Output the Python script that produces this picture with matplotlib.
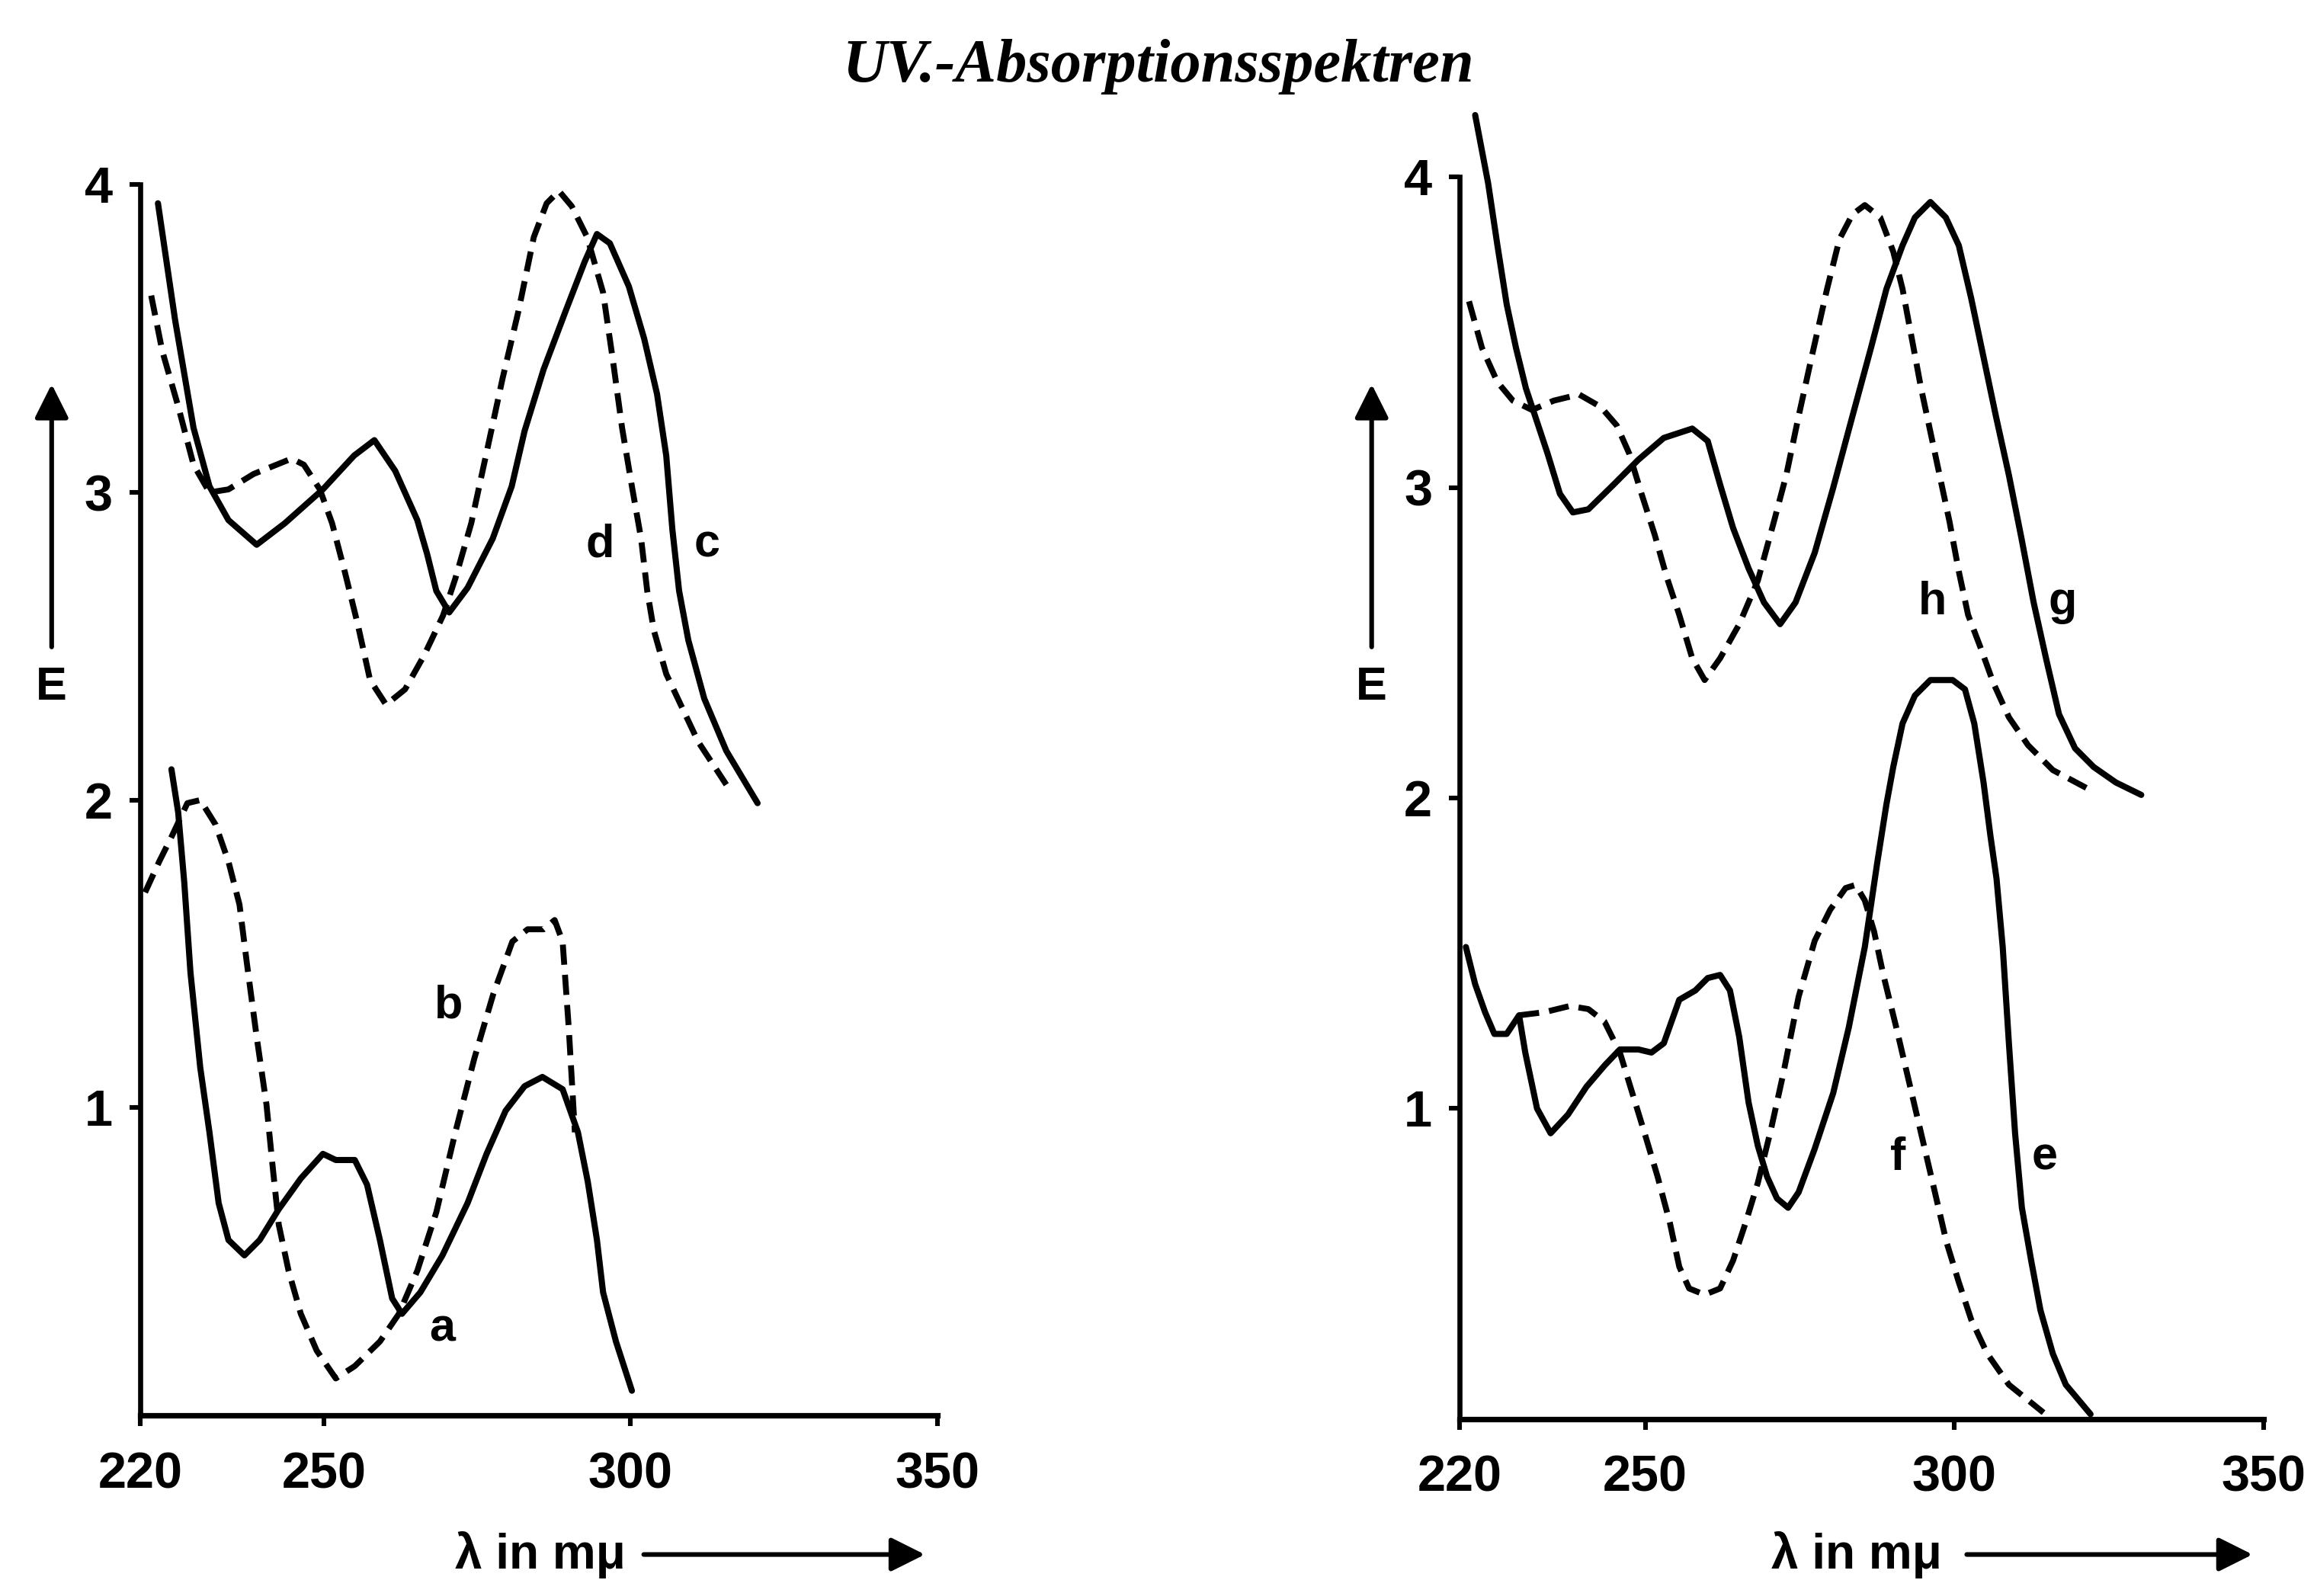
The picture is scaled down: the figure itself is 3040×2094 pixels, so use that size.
import matplotlib
matplotlib.use("Agg")
from matplotlib import pyplot as plt

# left panel, upper pair
c_x = [222.9, 225.7, 228.7, 231.3, 234.4, 239.0, 243.6, 249.8, 254.9, 258.2, 261.6, 265.2, 266.8, 268.3, 270.4,
       273.4, 277.5, 280.6, 282.7, 285.8, 289.4, 292.5, 294.5, 296.6, 299.7, 302.2, 304.3, 305.8, 306.8, 307.9,
       309.4, 312.0, 315.6, 320.7]
c_y = [3.94, 3.56, 3.21, 3.02, 2.91, 2.83, 2.90, 3.01, 3.12, 3.17, 3.07, 2.91, 2.80, 2.68, 2.61,
       2.69, 2.85, 3.02, 3.20, 3.40, 3.59, 3.75, 3.84, 3.81, 3.67, 3.50, 3.32, 3.12, 2.88, 2.68,
       2.52, 2.33, 2.16, 1.99]
d_x = [221.8, 223.6, 226.2, 228.7, 231.3, 234.4, 238.5, 244.7, 246.7, 249.3, 251.3, 253.4, 255.5, 257.5, 260.1,
       263.2, 266.3, 269.4, 271.4, 274.0, 276.5, 279.1, 281.7, 284.2, 286.3, 288.3, 290.4, 292.9, 295.5, 297.1,
       298.6, 300.2, 301.7, 302.7, 303.8, 305.8, 308.4, 311.0, 315.6]
d_y = [3.64, 3.46, 3.28, 3.09, 3.00, 3.01, 3.06, 3.11, 3.09, 3.01, 2.90, 2.74, 2.57, 2.39, 2.31,
       2.36, 2.47, 2.60, 2.72, 2.90, 3.13, 3.37, 3.59, 3.83, 3.94, 3.98, 3.93, 3.83, 3.65, 3.43,
       3.21, 3.02, 2.85, 2.68, 2.55, 2.41, 2.30, 2.19, 2.05]

# left panel, lower pair
a_x = [225.1, 226.2, 227.2, 228.2, 229.8, 231.3, 232.8, 234.4, 237.0, 239.5, 242.6, 246.2, 249.8, 251.9, 255.0,
       257.0, 259.1, 261.1, 262.7, 265.7, 269.3, 273.4, 276.5, 279.6, 282.7, 285.6, 288.9, 291.4, 293.0, 294.5,
       295.5, 297.6, 300.2]
a_y = [2.10, 1.96, 1.73, 1.44, 1.13, 0.92, 0.69, 0.57, 0.52, 0.57, 0.67, 0.77, 0.85, 0.83, 0.83,
       0.75, 0.57, 0.38, 0.33, 0.40, 0.52, 0.69, 0.85, 0.99, 1.07, 1.10, 1.06, 0.92, 0.76, 0.57,
       0.40, 0.24, 0.08]
b_x = [220.8, 223.1, 225.1, 227.7, 229.8, 232.3, 234.4, 236.2, 237.4, 239.0, 240.6, 241.6, 242.6, 244.2, 246.2,
       248.8, 251.9, 255.0, 259.1, 262.2, 265.2, 268.3, 271.4, 274.5, 277.6, 280.7, 283.2, 285.8, 287.6, 288.9,
       289.9, 290.9]
b_y = [1.70, 1.80, 1.88, 1.99, 2.00, 1.92, 1.80, 1.66, 1.47, 1.23, 1.01, 0.81, 0.62, 0.47, 0.33,
       0.21, 0.12, 0.16, 0.24, 0.33, 0.47, 0.66, 0.92, 1.16, 1.37, 1.54, 1.58, 1.58, 1.61, 1.54,
       1.26, 0.92]

# right panel, upper pair
g_x = [222.5, 224.6, 226.1, 227.6, 229.1, 230.7, 232.2, 234.2, 236.2, 238.3, 240.8, 244.9, 248.9, 253.0, 257.6,
       260.1, 262.1, 264.2, 266.7, 269.2, 271.8, 274.3, 277.4, 280.4, 283.5, 286.5, 289.0, 291.6, 293.6, 296.1,
       298.6, 300.7, 302.7, 304.7, 306.7, 308.8, 310.8, 312.8, 314.8, 316.9, 319.5, 322.5, 326.1, 330.2]
g_y = [4.20, 3.98, 3.78, 3.59, 3.45, 3.32, 3.23, 3.11, 2.98, 2.92, 2.93, 3.01, 3.09, 3.16, 3.19,
       3.15, 3.01, 2.87, 2.74, 2.63, 2.56, 2.63, 2.79, 3.00, 3.23, 3.45, 3.64, 3.78, 3.87, 3.92,
       3.87, 3.78, 3.61, 3.42, 3.23, 3.04, 2.84, 2.63, 2.45, 2.27, 2.16, 2.10, 2.05, 2.01]
h_x = [221.5, 223.6, 226.1, 228.6, 231.7, 235.2, 239.3, 242.8, 245.4, 247.4, 249.4, 251.5, 253.5, 255.5, 257.6,
       259.6, 262.1, 265.2, 268.2, 270.8, 272.8, 274.8, 276.9, 279.4, 281.4, 283.5, 285.5, 288.0, 290.1, 291.6,
       293.1, 294.6, 296.1, 297.7, 299.2, 300.7, 302.2, 304.3, 306.3, 308.8, 311.9, 315.9, 322.5]
h_y = [3.60, 3.45, 3.34, 3.28, 3.25, 3.28, 3.30, 3.26, 3.20, 3.11, 2.98, 2.85, 2.71, 2.59, 2.45,
       2.38, 2.45, 2.56, 2.70, 2.89, 3.04, 3.23, 3.42, 3.64, 3.80, 3.88, 3.91, 3.87, 3.76, 3.64,
       3.48, 3.32, 3.18, 3.03, 2.89, 2.73, 2.59, 2.48, 2.37, 2.26, 2.17, 2.09, 2.02]

# right panel, lower pair
e_x = [221.0, 222.5, 224.1, 225.6, 227.6, 229.6, 230.6, 232.5, 234.7, 237.5, 240.5, 243.5, 245.9, 248.9, 251.0,
       253.0, 255.5, 258.1, 260.1, 262.1, 263.7, 265.2, 266.7, 268.2, 269.7, 271.3, 273.1, 274.8, 277.4, 280.4,
       282.9, 285.5, 287.5, 289.0, 290.1, 291.6, 293.6, 296.1, 299.7, 301.7, 303.2, 304.7, 305.8, 306.8, 307.8,
       308.8, 309.8, 310.9, 312.4, 313.9, 315.9, 318.0, 322.0]
e_y = [1.52, 1.40, 1.31, 1.24, 1.24, 1.30, 1.18, 1.00, 0.92, 0.98, 1.07, 1.14, 1.19, 1.19, 1.18,
       1.21, 1.35, 1.38, 1.42, 1.43, 1.38, 1.23, 1.02, 0.88, 0.78, 0.71, 0.68, 0.73, 0.87, 1.05,
       1.26, 1.52, 1.79, 1.98, 2.10, 2.24, 2.33, 2.38, 2.38, 2.35, 2.24, 2.05, 1.88, 1.74, 1.52,
       1.21, 0.92, 0.68, 0.51, 0.35, 0.21, 0.11, 0.015]
f_x = [229.6, 233.7, 237.8, 240.8, 243.4, 245.9, 247.9, 249.9, 252.0, 254.0, 255.5, 257.1, 259.6, 262.1, 264.2,
       266.2, 268.2, 270.3, 272.3, 274.8, 277.4, 279.9, 282.4, 284.0, 285.5, 287.0, 288.5, 290.6, 292.6, 294.6,
       296.6, 298.7, 300.7, 302.7, 305.3, 308.8, 314.4]
f_y = [1.30, 1.31, 1.33, 1.32, 1.28, 1.18, 1.05, 0.92, 0.78, 0.63, 0.49, 0.42, 0.40, 0.42, 0.51,
       0.63, 0.76, 0.93, 1.11, 1.36, 1.54, 1.64, 1.71, 1.72, 1.67, 1.57, 1.43, 1.26, 1.09, 0.92,
       0.75, 0.57, 0.44, 0.32, 0.21, 0.11, 0.02]

x_ticks = [220, 250, 300, 350]
y_ticks = [1, 2, 3, 4]

left_labels = [("d", 295.0, 2.83), ("c", 312.5, 2.83), ("b", 270.3, 1.33), ("a", 269.3, 0.28)]
right_labels = [("h", 296.4, 2.63), ("g", 317.5, 2.63), ("f", 290.8, 0.84), ("e", 314.6, 0.84)]

sans = ["Liberation Sans", "DejaVu Sans"]
solid = dict(color="black", lw=2.9, solid_capstyle="round", solid_joinstyle="round", clip_on=False)
dashed = dict(color="black", lw=2.8, linestyle=(0, (3.4, 1.7)), clip_on=False)
lab_font = dict(fontsize=22, fontweight="bold", family=sans)

fig = plt.figure(figsize=(15.2, 10.47), dpi=200)
ax1 = fig.add_axes([0.0605, 0.1132, 0.344, 0.771])
ax2 = fig.add_axes([0.630, 0.111, 0.347, 0.778])

ax1.plot(c_x, c_y, **solid)
ax1.plot(d_x, d_y, **dashed)
ax1.plot(a_x, a_y, **solid)
ax1.plot(b_x, b_y, **dashed)
ax2.plot(g_x, g_y, **solid)
ax2.plot(h_x, h_y, **dashed)
ax2.plot(e_x, e_y, **solid)
ax2.plot(f_x, f_y, **dashed)

for ax, labs in [(ax1, left_labels), (ax2, right_labels)]:
    ax.set_xlim(220, 350)
    ax.set_ylim(0, 4)
    ax.set_xticks(x_ticks)
    ax.set_yticks(y_ticks)
    ax.spines["top"].set_visible(False)
    ax.spines["right"].set_visible(False)
    ax.spines["left"].set_linewidth(2.4)
    ax.spines["bottom"].set_linewidth(2.6)
    ax.tick_params(axis="both", direction="out", length=5, width=2.2)
    ax.tick_params(axis="x", pad=12)
    ax.tick_params(axis="y", pad=8)
    for t in ax.get_xticklabels() + ax.get_yticklabels():
        t.set_fontweight("bold")
        t.set_fontsize(24)
        t.set_family(sans)
    for s, x, y in labs:
        ax.text(x, y, s, ha="center", va="center", **lab_font)

# E with upward arrow, lambda with arrow to the right
for ex in [0.0223, 0.592]:
    fig.text(ex, 0.569, "E", ha="center", va="center", **lab_font)
    ax1.annotate("", xy=(ex, 0.762), xytext=(ex, 0.592), xycoords="figure fraction",
                 arrowprops=dict(arrowstyle="-|>", color="black", lw=2.2, mutation_scale=34))
for tx, a0, a1 in [(0.270, 0.276, 0.401), (0.838, 0.847, 0.974)]:
    fig.text(tx, 0.026, "λ in mμ", ha="right", va="center", fontsize=23, fontweight="bold", family=sans)
    ax1.annotate("", xy=(a1, 0.026), xytext=(a0, 0.026), xycoords="figure fraction",
                 arrowprops=dict(arrowstyle="-|>", color="black", lw=2.2, mutation_scale=34))

fig.text(0.5, 0.958, "UV.-Absorptionsspektren", ha="center", va="center", fontsize=29,
         fontstyle="italic", fontweight="bold", family=["Liberation Serif", "DejaVu Serif"])

plt.savefig("out.png", dpi=200)
